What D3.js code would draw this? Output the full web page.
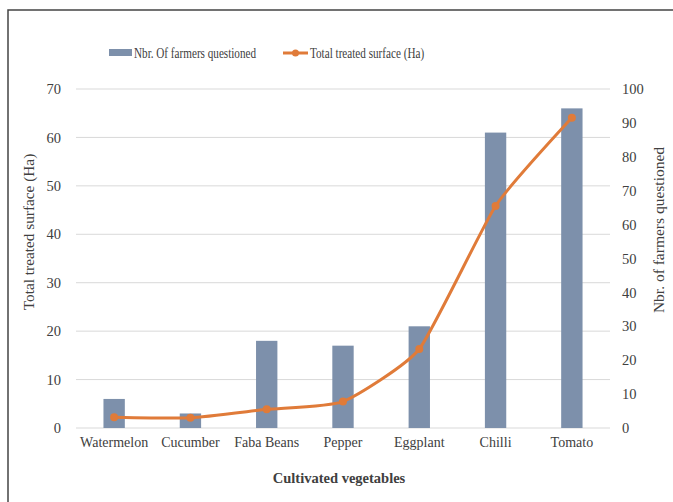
<!DOCTYPE html>
<html>
<head>
<meta charset="utf-8">
<script src="https://cdn.jsdelivr.net/npm/d3@7"></script>
<style>
  html, body { margin: 0; padding: 0; background: #fff; }
  svg { display: block; }
  text { font-family: "Liberation Serif", "Times New Roman", serif; fill: #404040; }
</style>
</head>
<body>
<svg id="chart" width="673" height="502"></svg>
<script>
// Crops surveyed
const categories = ["Watermelon", "Cucumber", "Faba Beans", "Pepper", "Eggplant", "Chilli", "Tomato"];
// Bars, read on the left axis
const farmers = [6, 3, 18, 17, 21, 61, 66];
// Line, read on the right axis
const surface = [3.2, 3, 5.5, 7.8, 23.3, 65.5, 91.5];
const leftTicks = [0, 10, 20, 30, 40, 50, 60, 70];
const rightTicks = [0, 10, 20, 30, 40, 50, 60, 70, 80, 90, 100];

const barColor = "#7d90ab";
const lineColor = "#e07b39";
const gridColor = "#d9d9d9";
const serif = "Liberation Serif";

const svg = d3.select("#chart");
const plot = { left: 76, right: 610, top: 89, bottom: 428 };

// frame around the figure
svg.append("rect")
  .attr("x", 8).attr("y", 10)
  .attr("width", 700).attr("height", 520)
  .attr("fill", "none").attr("stroke", "#444").attr("stroke-width", 1.5);

const x = d3.scaleBand()
  .domain(categories)
  .range([plot.left, plot.right])
  .paddingInner(0.72)
  .paddingOuter(0.36);

const yL = d3.scaleLinear().domain([0, 70]).range([plot.bottom, plot.top]);
const yR = d3.scaleLinear().domain([0, 100]).range([plot.bottom, plot.top]);

// horizontal gridlines
svg.append("g")
  .selectAll("line")
  .data(leftTicks)
  .join("line")
  .attr("x1", plot.left).attr("x2", plot.right)
  .attr("y1", d => yL(d)).attr("y2", d => yL(d))
  .attr("stroke", gridColor).attr("stroke-width", 1);

// left axis
const leftAxis = svg.append("g")
  .attr("transform", `translate(${plot.left - 15},0)`)
  .call(d3.axisLeft(yL).tickValues(leftTicks).tickSize(0).tickPadding(0));
leftAxis.attr("font-family", serif);
leftAxis.select(".domain").remove();
leftAxis.selectAll("text")
  .style("font-family", serif).style("font-size", "14.5px").attr("fill", "#404040");

// right axis
const rightAxis = svg.append("g")
  .attr("transform", `translate(${plot.right + 12},0)`)
  .call(d3.axisRight(yR).tickValues(rightTicks).tickSize(0).tickPadding(0));
rightAxis.attr("font-family", serif);
rightAxis.select(".domain").remove();
rightAxis.selectAll("text")
  .style("font-family", serif).style("font-size", "14.5px").attr("fill", "#404040");

// category axis
const bottomAxis = svg.append("g")
  .attr("transform", `translate(0,${plot.bottom + 9})`)
  .call(d3.axisBottom(x).tickSize(0).tickPadding(0));
bottomAxis.attr("font-family", serif);
bottomAxis.select(".domain").remove();
bottomAxis.selectAll("text")
  .style("font-family", serif).style("font-size", "14px").attr("fill", "#262626");

// bars
svg.append("g")
  .selectAll("rect")
  .data(categories.map((c, i) => ({ c, v: farmers[i] })))
  .join("rect")
  .attr("x", d => x(d.c))
  .attr("width", x.bandwidth())
  .attr("y", d => yL(d.v))
  .attr("height", d => yL(0) - yL(d.v))
  .attr("fill", barColor);

// smoothed line with markers
const pts = categories.map((c, i) => ({ c, v: surface[i] }));
const line = d3.line()
  .x(d => x(d.c) + x.bandwidth() / 2)
  .y(d => yR(d.v))
  .curve(d3.curveCardinal.tension(0.5));
svg.append("path")
  .datum(pts)
  .attr("d", line)
  .attr("fill", "none")
  .attr("stroke", lineColor)
  .attr("stroke-width", 3)
  .attr("stroke-linecap", "round");
svg.append("g")
  .selectAll("circle")
  .data(pts)
  .join("circle")
  .attr("cx", d => x(d.c) + x.bandwidth() / 2)
  .attr("cy", d => yR(d.v))
  .attr("r", 4)
  .attr("fill", lineColor);

// axis titles
svg.append("text")
  .attr("transform", `translate(34,232) rotate(-90)`)
  .attr("text-anchor", "middle")
  .style("font-size", "15.3px")
  .attr("fill", "#262626")
  .text("Total treated surface (Ha)");

svg.append("text")
  .attr("transform", `translate(664,230) rotate(-90)`)
  .attr("text-anchor", "middle")
  .style("font-size", "15.5px")
  .attr("fill", "#262626")
  .text("Nbr. of farmers questioned");

svg.append("text")
  .attr("x", 339).attr("y", 483)
  .attr("text-anchor", "middle")
  .style("font-size", "14.5px")
  .style("font-weight", "bold")
  .attr("fill", "#262626")
  .text("Cultivated vegetables");

// legend
const legend = svg.append("g");
legend.append("rect")
  .attr("x", 109).attr("y", 49).attr("width", 23).attr("height", 7)
  .attr("fill", barColor);
legend.append("text")
  .attr("transform", "translate(134,58) scale(0.72,1)")
  .style("font-size", "15.5px")
  .attr("fill", "#262626")
  .text("Nbr. Of farmers questioned");
legend.append("line")
  .attr("x1", 283).attr("x2", 308).attr("y1", 53).attr("y2", 53)
  .attr("stroke", lineColor).attr("stroke-width", 3);
legend.append("circle")
  .attr("cx", 295.5).attr("cy", 53).attr("r", 3.5)
  .attr("fill", lineColor);
legend.append("text")
  .attr("transform", "translate(310,58) scale(0.72,1)")
  .style("font-size", "15.5px")
  .attr("fill", "#262626")
  .text("Total treated surface (Ha)");
</script>
</body>
</html>
